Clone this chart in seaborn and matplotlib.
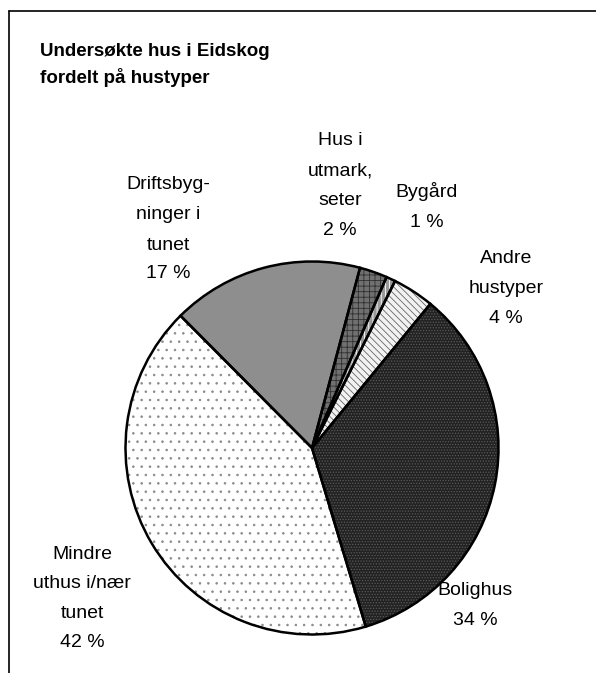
import matplotlib
matplotlib.use("Agg")
import matplotlib.pyplot as plt
import seaborn as sns

# ---- data ----
categories = ["Bolighus", "Mindre\nuthus i/nær\ntunet", "Driftsbyg-\nninger i\ntunet",
              "Hus i\nutmark,\nseter", "Bygård", "Andre\nhustyper"]
shares = [34.4, 42.2, 16.6, 2.4, 0.8, 3.6]
title_lines = ["Undersøkte hus i Eidskog", "fordelt på hustyper"]

# ---- style ----
sns.set_theme(style="white")
plt.rcParams['font.family'] = ['Liberation Sans', 'DejaVu Sans']
plt.rcParams['hatch.linewidth'] = 0.6

W, H = 596, 673
fig = plt.figure(figsize=(W / 100, H / 100), dpi=100)
fig.patch.set_facecolor("white")
ax = fig.add_axes([0, 0, 1, 1])
ax.set_facecolor("white")

cx, cy, r = 312, H - 448, 186.5
start = 50.6

faces = ["#222222", "#ffffff", "#8e8e8e", "#707070", "#9a9a9a", "#f2f2f2"]
hatches = ["......", "..", "", "+++", "||||", "\\\\\\\\\\"]
hatch_cols = ["#5a5a5a", "#8a8a8a", "#8e8e8e", "#303030", "#ffffff", "#666666"]

wedges, _ = ax.pie(shares, startangle=start, counterclock=False, center=(cx, cy),
                   radius=r, colors=faces, frame=True,
                   wedgeprops=dict(linewidth=0))
for w, h, hc in zip(wedges, hatches, hatch_cols):
    w.set_edgecolor(hc)
    w.set_hatch(h)

ax.pie(shares, startangle=start, counterclock=False, center=(cx, cy), radius=r,
       frame=True, wedgeprops=dict(fill=False, edgecolor="black", linewidth=1.8))

ax.set_xlim(0, W)
ax.set_ylim(0, H)
ax.set_aspect("auto")
ax.axis("off")

# frame lines (top and left)
ax.axhline(H - 10.5, xmin=8.5 / W, xmax=1, color="black", lw=1.2)
ax.axvline(8.5, ymin=0, ymax=(H - 10.5) / H, color="black", lw=1.2)

# title
for line, yb in zip(title_lines, [56, 83]):
    ax.text(40, H - yb, line, fontsize=13.5, fontweight="bold", ha="left",
            va="baseline", color="black")

# labels (layout positions in pixels: center x, baselines)
layout = [
    (475, [595, 625]),
    (82, [559, 588, 618, 647]),
    (168, [189, 219, 250, 278]),
    (340, [145, 175, 205, 235]),
    (427, [197, 227]),
    (506, [263, 293, 323]),
]
for name, val, (lx, ybs) in zip(categories, shares, layout):
    lines = name.split("\n") + [f"{round(val)} %"]
    for line, yb in zip(lines, ybs):
        ax.text(lx, H - yb, line, fontsize=14, ha="center", va="baseline",
                color="black")

fig.savefig("out.png", dpi=100, facecolor="white")
